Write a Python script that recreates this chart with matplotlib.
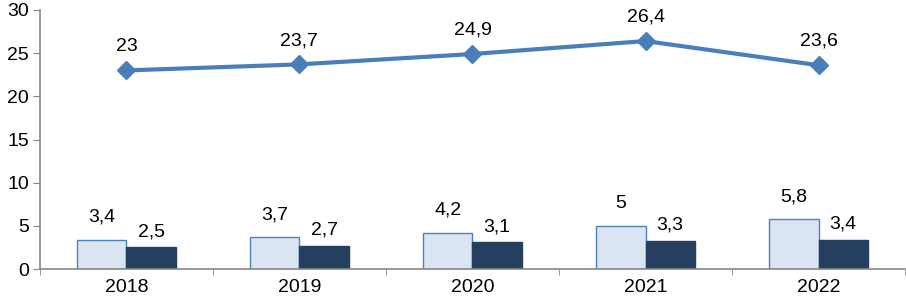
import matplotlib.pyplot as plt
import numpy as np

years = ["2018", "2019", "2020", "2021", "2022"]
line_vals = [23, 23.7, 24.9, 26.4, 23.6]
light_vals = [3.4, 3.7, 4.2, 5, 5.8]
dark_vals = [2.5, 2.7, 3.1, 3.3, 3.4]

def fmt(v):
    return ("%g" % v).replace(".", ",")

plt.rcParams['font.family'] = ['Liberation Sans', 'DejaVu Sans']

fig = plt.figure(figsize=(9.06, 3.02), dpi=100)
ax = fig.add_axes([0.044, 0.109, 0.955, 0.858])

x = np.arange(len(years))
w = 0.285
ax.bar(x - w / 2, light_vals, w, color="#dbe5f1", edgecolor="#4f81bd", linewidth=1.0, zorder=2)
ax.bar(x + w / 2, dark_vals, w, color="#243f60", edgecolor="#243f60", linewidth=1.0, zorder=2)
ax.plot(x, line_vals, color="#4a7ebb", linewidth=3, marker="D", markersize=9, zorder=3)

for i in x:
    ax.annotate(fmt(line_vals[i]), (i, line_vals[i]), xytext=(0, 11), textcoords="offset points",
                ha="center", va="bottom", fontsize=14)
    ax.annotate(fmt(light_vals[i]), (i - w / 2, light_vals[i]), xytext=(0, 10), textcoords="offset points",
                ha="center", va="bottom", fontsize=14)
    ax.annotate(fmt(dark_vals[i]), (i + w / 2, dark_vals[i]), xytext=(0, 5), textcoords="offset points",
                ha="center", va="bottom", fontsize=14)

ax.set_xlim(-0.5, len(years) - 0.5)
ax.set_ylim(0, 30)
ax.set_yticks(range(0, 31, 5))
ax.set_xticks(x)
ax.set_xticklabels(years)
ax.set_xticks(np.arange(-0.5, len(years), 1), minor=True)
ax.tick_params(axis="x", which="major", length=0, labelsize=14, pad=7)
ax.tick_params(axis="x", which="minor", length=4, color="#868686", direction="out")
ax.tick_params(axis="y", length=5, color="#868686", labelsize=14, direction="out", pad=3)

for s in ["top", "right"]:
    ax.spines[s].set_visible(False)
for s in ["left", "bottom"]:
    ax.spines[s].set_color("#868686")
    ax.spines[s].set_linewidth(1.2)

fig.savefig("out.png", dpi=100)
